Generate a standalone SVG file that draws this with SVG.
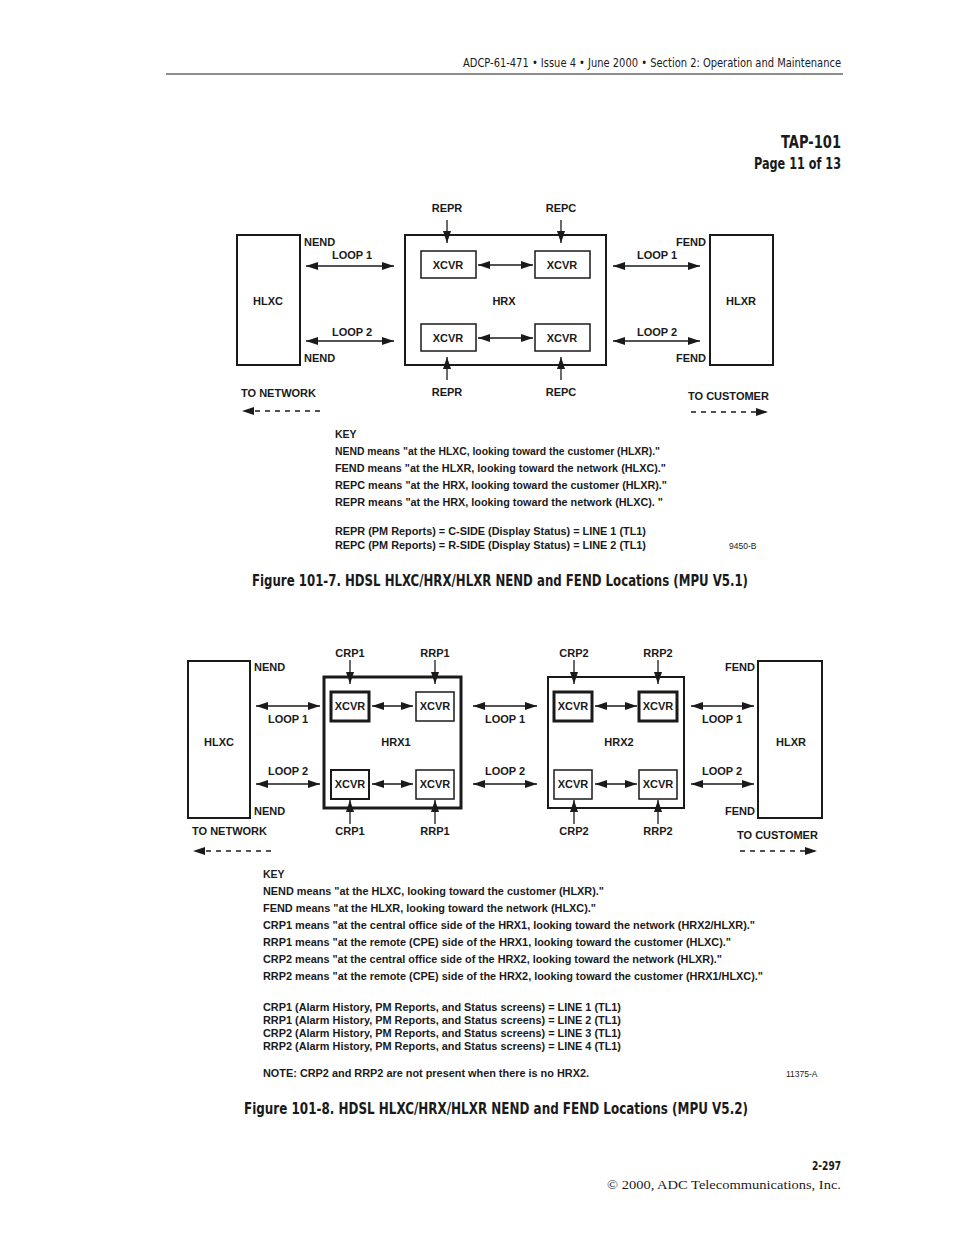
<svg xmlns="http://www.w3.org/2000/svg" width="954" height="1235" viewBox="0 0 954 1235">
<style>
  .bg{fill:#fff}
  .box{fill:none;stroke:#1a1a1a;stroke-width:2}
  .thin{fill:none;stroke:#1a1a1a;stroke-width:1.5}
  .thick{fill:none;stroke:#1a1a1a;stroke-width:3}
  .lbl{font-family:"Liberation Sans",Arial,Helvetica,sans-serif;font-weight:bold;font-size:11px;fill:#1a1a1a}
  .c{text-anchor:middle}
  .e{text-anchor:end}
  .key1{font-family:"Liberation Sans",Arial,Helvetica,sans-serif;font-weight:bold;font-size:10.5px;fill:#1a1a1a}
  .key2{font-family:"Liberation Sans",Arial,Helvetica,sans-serif;font-weight:bold;font-size:10.5px;fill:#1a1a1a}
  .tag{font-family:"Liberation Sans",Arial,Helvetica,sans-serif;font-size:8.5px;fill:#1a1a1a}
  .narrow{font-family:"Liberation Sans Narrow","DejaVu Sans Condensed","Liberation Sans",Arial,sans-serif;fill:#1a1a1a}
  .hdr{font-size:12px}
  .cap{font-size:15px;font-weight:bold}
  .serif{font-family:"Liberation Serif","Times New Roman",serif;font-size:13px;fill:#1a1a1a}
  .arr{stroke:#1a1a1a;stroke-width:1.3;fill:none;marker-end:url(#ah)}
  .darr{stroke:#1a1a1a;stroke-width:1.3;fill:none;marker-start:url(#ah);marker-end:url(#ah)}
  .dash{stroke:#1a1a1a;stroke-width:1.3;fill:none;stroke-dasharray:5,5;marker-end:url(#ah)}
</style>
<defs>
  <marker id="ah" markerUnits="userSpaceOnUse" markerWidth="12" markerHeight="8" refX="12" refY="4" orient="auto-start-reverse">
    <path d="M0,0 L12,4 L0,8 Z" fill="#1a1a1a"/>
  </marker>
</defs>
<rect class="bg" x="0" y="0" width="954" height="1235"/>

<g id="header">
  <text class="narrow hdr" x="841" y="67" text-anchor="end" textLength="378" lengthAdjust="spacingAndGlyphs">ADCP-61-471 • Issue 4 • June 2000 • Section 2: Operation and Maintenance</text>
  <line x1="166" y1="74" x2="843" y2="74" stroke="#1a1a1a" stroke-width="1.2"/>
  <text class="narrow" x="841" y="148" text-anchor="end" font-size="18" font-weight="bold" textLength="60" lengthAdjust="spacingAndGlyphs">TAP-101</text>
  <text class="narrow" x="841" y="169" text-anchor="end" font-size="15" font-weight="bold" textLength="87" lengthAdjust="spacingAndGlyphs">Page 11 of 13</text>
</g>

<!-- ===== Figure 101-7 ===== -->
<g id="fig1-hlxc">
  <rect class="box" x="237" y="235" width="63" height="130"/>
  <text class="lbl c" x="268" y="305">HLXC</text>
</g>
<g id="fig1-hrx">
  <rect class="box" x="405" y="235" width="201" height="130"/>
  <text class="lbl c" x="504" y="305">HRX</text>
</g>
<g id="fig1-xcvr1"><rect class="thin" x="421" y="251" width="55" height="27"/><text class="lbl c" x="448" y="269">XCVR</text></g>
<g id="fig1-xcvr2"><rect class="thin" x="535" y="251" width="55" height="27"/><text class="lbl c" x="562" y="269">XCVR</text></g>
<g id="fig1-xcvr3"><rect class="thin" x="421" y="324" width="55" height="27"/><text class="lbl c" x="448" y="342">XCVR</text></g>
<g id="fig1-xcvr4"><rect class="thin" x="535" y="324" width="55" height="27"/><text class="lbl c" x="562" y="342">XCVR</text></g>
<g id="fig1-hlxr">
  <rect class="box" x="710" y="235" width="63" height="130"/>
  <text class="lbl c" x="741" y="305">HLXR</text>
</g>
<g id="fig1-connectors">
  <line class="darr" x1="306" y1="266" x2="394" y2="266"/>
  <line class="darr" x1="306" y1="341" x2="394" y2="341"/>
  <line class="darr" x1="613" y1="266" x2="700" y2="266"/>
  <line class="darr" x1="613" y1="341" x2="700" y2="341"/>
  <line class="darr" x1="478" y1="265" x2="533" y2="265"/>
  <line class="darr" x1="478" y1="338" x2="533" y2="338"/>
  <line class="arr" x1="447" y1="220" x2="447" y2="243"/>
  <line class="arr" x1="561" y1="220" x2="561" y2="243"/>
  <line class="arr" x1="447" y1="380" x2="447" y2="357"/>
  <line class="arr" x1="561" y1="380" x2="561" y2="357"/>
  <line class="dash" x1="320" y1="411" x2="242" y2="411"/>
  <line class="dash" x1="691" y1="412" x2="768" y2="412"/>
</g>
<g id="fig1-labels">
  <text class="lbl c" x="447" y="212">REPR</text>
  <text class="lbl c" x="561" y="212">REPC</text>
  <text class="lbl c" x="447" y="396">REPR</text>
  <text class="lbl c" x="561" y="396">REPC</text>
  <text class="lbl" x="304" y="246">NEND</text>
  <text class="lbl" x="304" y="362">NEND</text>
  <text class="lbl e" x="706" y="246">FEND</text>
  <text class="lbl e" x="706" y="362">FEND</text>
  <text class="lbl c" x="352" y="259">LOOP 1</text>
  <text class="lbl c" x="352" y="336">LOOP 2</text>
  <text class="lbl c" x="657" y="259">LOOP 1</text>
  <text class="lbl c" x="657" y="336">LOOP 2</text>
  <text class="lbl" x="241" y="397">TO NETWORK</text>
  <text class="lbl" x="688" y="400">TO CUSTOMER</text>
</g>
<g id="fig1-key">
  <text class="key1" x="335" y="438">KEY</text>
  <text class="key1" x="335" y="455" textLength="325" lengthAdjust="spacingAndGlyphs">NEND means "at the HLXC, looking toward the customer (HLXR)."</text>
  <text class="key1" x="335" y="472" textLength="331" lengthAdjust="spacingAndGlyphs">FEND means "at the HLXR, looking toward the network (HLXC)."</text>
  <text class="key1" x="335" y="489" textLength="332" lengthAdjust="spacingAndGlyphs">REPC means "at the HRX, looking toward the customer (HLXR)."</text>
  <text class="key1" x="335" y="506" textLength="328" lengthAdjust="spacingAndGlyphs">REPR means "at the HRX, looking toward the network (HLXC). "</text>
  <text class="key1" x="335" y="535" textLength="311" lengthAdjust="spacingAndGlyphs">REPR (PM Reports) = C-SIDE (Display Status) = LINE 1 (TL1)</text>
  <text class="key1" x="335" y="549" textLength="311" lengthAdjust="spacingAndGlyphs">REPC (PM Reports) = R-SIDE (Display Status) = LINE 2 (TL1)</text>
  <text class="tag" x="729" y="549">9450-B</text>
</g>
<text class="narrow cap" x="252" y="586" textLength="496" lengthAdjust="spacingAndGlyphs">Figure 101-7. HDSL HLXC/HRX/HLXR NEND and FEND Locations (MPU V5.1)</text>

<!-- ===== Figure 101-8 ===== -->
<g id="fig2-hlxc">
  <rect class="box" x="188" y="661" width="62" height="157"/>
  <text class="lbl c" x="219" y="746">HLXC</text>
</g>
<g id="fig2-hrx1">
  <rect class="thick" x="324" y="677" width="137" height="131"/>
  <text class="lbl c" x="396" y="746">HRX1</text>
</g>
<g id="fig2-hrx1-x1"><rect class="thick" x="331" y="692" width="38" height="29"/><text class="lbl c" x="350" y="710">XCVR</text></g>
<g id="fig2-hrx1-x2"><rect class="thin" x="416" y="692" width="38" height="29"/><text class="lbl c" x="435" y="710">XCVR</text></g>
<g id="fig2-hrx1-x3"><rect class="box" x="331" y="770" width="38" height="29"/><text class="lbl c" x="350" y="788">XCVR</text></g>
<g id="fig2-hrx1-x4"><rect class="thin" x="416" y="770" width="38" height="29"/><text class="lbl c" x="435" y="788">XCVR</text></g>
<g id="fig2-hrx2">
  <rect class="box" x="548" y="677" width="136" height="131"/>
  <text class="lbl c" x="619" y="746">HRX2</text>
</g>
<g id="fig2-hrx2-x1"><rect class="thick" x="554" y="692" width="38" height="29"/><text class="lbl c" x="573" y="710">XCVR</text></g>
<g id="fig2-hrx2-x2"><rect class="thick" x="639" y="692" width="38" height="29"/><text class="lbl c" x="658" y="710">XCVR</text></g>
<g id="fig2-hrx2-x3"><rect class="thin" x="554" y="770" width="38" height="29"/><text class="lbl c" x="573" y="788">XCVR</text></g>
<g id="fig2-hrx2-x4"><rect class="thin" x="639" y="770" width="38" height="29"/><text class="lbl c" x="658" y="788">XCVR</text></g>
<g id="fig2-hlxr">
  <rect class="box" x="758" y="661" width="64" height="157"/>
  <text class="lbl c" x="791" y="746">HLXR</text>
</g>
<g id="fig2-connectors">
  <line class="darr" x1="256" y1="706" x2="320" y2="706"/>
  <line class="darr" x1="256" y1="784" x2="320" y2="784"/>
  <line class="darr" x1="473" y1="706" x2="537" y2="706"/>
  <line class="darr" x1="473" y1="784" x2="537" y2="784"/>
  <line class="darr" x1="691" y1="706" x2="754" y2="706"/>
  <line class="darr" x1="691" y1="784" x2="754" y2="784"/>
  <line class="darr" x1="372" y1="706" x2="413" y2="706"/>
  <line class="darr" x1="372" y1="784" x2="413" y2="784"/>
  <line class="darr" x1="595" y1="706" x2="637" y2="706"/>
  <line class="darr" x1="595" y1="784" x2="637" y2="784"/>
  <line class="arr" x1="350" y1="660" x2="350" y2="684"/>
  <line class="arr" x1="435" y1="660" x2="435" y2="684"/>
  <line class="arr" x1="574" y1="660" x2="574" y2="684"/>
  <line class="arr" x1="658" y1="660" x2="658" y2="684"/>
  <line class="arr" x1="350" y1="824" x2="350" y2="800"/>
  <line class="arr" x1="435" y1="824" x2="435" y2="800"/>
  <line class="arr" x1="574" y1="824" x2="574" y2="800"/>
  <line class="arr" x1="658" y1="824" x2="658" y2="800"/>
  <line class="dash" x1="271" y1="851" x2="193" y2="851"/>
  <line class="dash" x1="740" y1="851" x2="817" y2="851"/>
</g>
<g id="fig2-labels">
  <text class="lbl c" x="350" y="657">CRP1</text>
  <text class="lbl c" x="435" y="657">RRP1</text>
  <text class="lbl c" x="574" y="657">CRP2</text>
  <text class="lbl c" x="658" y="657">RRP2</text>
  <text class="lbl c" x="350" y="835">CRP1</text>
  <text class="lbl c" x="435" y="835">RRP1</text>
  <text class="lbl c" x="574" y="835">CRP2</text>
  <text class="lbl c" x="658" y="835">RRP2</text>
  <text class="lbl" x="254" y="671">NEND</text>
  <text class="lbl" x="254" y="815">NEND</text>
  <text class="lbl e" x="755" y="671">FEND</text>
  <text class="lbl e" x="755" y="815">FEND</text>
  <text class="lbl c" x="288" y="723">LOOP 1</text>
  <text class="lbl c" x="505" y="723">LOOP 1</text>
  <text class="lbl c" x="722" y="723">LOOP 1</text>
  <text class="lbl c" x="288" y="775">LOOP 2</text>
  <text class="lbl c" x="505" y="775">LOOP 2</text>
  <text class="lbl c" x="722" y="775">LOOP 2</text>
  <text class="lbl" x="192" y="835">TO NETWORK</text>
  <text class="lbl" x="737" y="839">TO CUSTOMER</text>
</g>
<g id="fig2-key">
  <text class="key2" x="263" y="878">KEY</text>
  <text class="key2" x="263" y="895" textLength="341" lengthAdjust="spacingAndGlyphs">NEND means "at the HLXC, looking toward the customer (HLXR)."</text>
  <text class="key2" x="263" y="912" textLength="333" lengthAdjust="spacingAndGlyphs">FEND means "at the HLXR, looking toward the network (HLXC)."</text>
  <text class="key2" x="263" y="929" textLength="492" lengthAdjust="spacingAndGlyphs">CRP1 means "at the central office side of the HRX1, looking toward the network (HRX2/HLXR)."</text>
  <text class="key2" x="263" y="946" textLength="468" lengthAdjust="spacingAndGlyphs">RRP1 means "at the remote (CPE) side of the HRX1, looking toward the customer (HLXC)."</text>
  <text class="key2" x="263" y="963" textLength="459" lengthAdjust="spacingAndGlyphs">CRP2 means "at the central office side of the HRX2, looking toward the network (HLXR)."</text>
  <text class="key2" x="263" y="980" textLength="500" lengthAdjust="spacingAndGlyphs">RRP2 means "at the remote (CPE) side of the HRX2, looking toward the customer (HRX1/HLXC)."</text>
  <text class="key2" x="263" y="1011" textLength="358" lengthAdjust="spacingAndGlyphs">CRP1 (Alarm History, PM Reports, and Status screens) = LINE 1 (TL1)</text>
  <text class="key2" x="263" y="1024" textLength="358" lengthAdjust="spacingAndGlyphs">RRP1 (Alarm History, PM Reports, and Status screens) = LINE 2 (TL1)</text>
  <text class="key2" x="263" y="1037" textLength="358" lengthAdjust="spacingAndGlyphs">CRP2 (Alarm History, PM Reports, and Status screens) = LINE 3 (TL1)</text>
  <text class="key2" x="263" y="1050" textLength="358" lengthAdjust="spacingAndGlyphs">RRP2 (Alarm History, PM Reports, and Status screens) = LINE 4 (TL1)</text>
  <text class="key2" x="263" y="1077" textLength="326" lengthAdjust="spacingAndGlyphs">NOTE: CRP2 and RRP2 are not present when there is no HRX2.</text>
  <text class="tag" x="786" y="1077">11375-A</text>
</g>
<text class="narrow cap" x="244" y="1114" textLength="504" lengthAdjust="spacingAndGlyphs">Figure 101-8. HDSL HLXC/HRX/HLXR NEND and FEND Locations (MPU V5.2)</text>

<g id="footer">
  <text class="narrow" x="841" y="1170" text-anchor="end" font-size="12" font-weight="bold" textLength="29" lengthAdjust="spacingAndGlyphs">2-297</text>
  <text class="serif" x="841" y="1189" text-anchor="end" textLength="234" lengthAdjust="spacingAndGlyphs">© 2000, ADC Telecommunications, Inc.</text>
</g>
</svg>
